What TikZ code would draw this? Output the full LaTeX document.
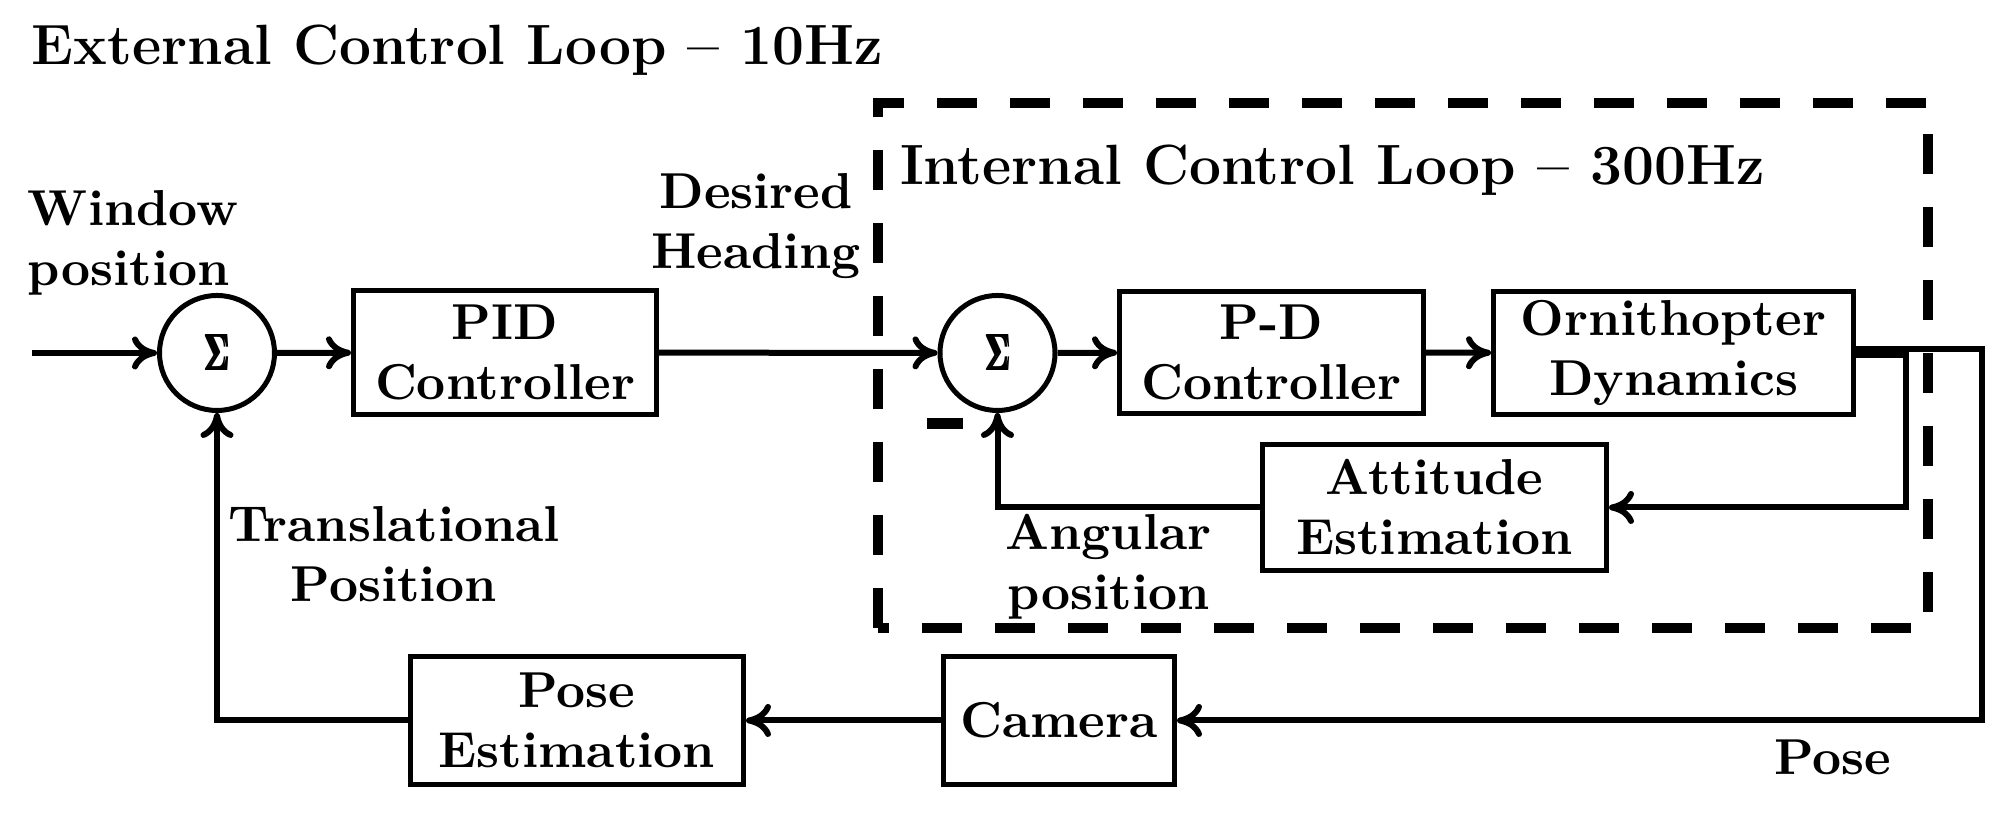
\documentclass[tikz,border=0pt]{standalone}
\usepackage{graphicx}
\usetikzlibrary{arrows.meta}
\newcommand\lblfont{\fontsize{10.1pt}{12pt}\selectfont\bfseries}
\newcommand\ttlfont{\fontsize{11.35pt}{13.5pt}\selectfont\bfseries}
\newcommand\sigbase{\resizebox{4.8pt}{7.2pt}{$\mathbf{\Sigma}$}}
\newcommand\sigsym{\rlap{\sigbase}\hspace{0.3pt}\rlap{\sigbase}\hspace{0.3pt}\sigbase}
\tikzset{
  blk/.style={draw, line width=1pt, inner sep=0pt, align=center, font=\lblfont},
  sumnode/.style={draw, circle, line width=1pt, minimum size=23pt, inner sep=0pt},
  conn/.style={line width=1.2pt, -{Computer Modern Rightarrow[length=5pt,width=6.6pt]}},
  lbl/.style={inner sep=0pt, align=center, font=\lblfont},
  ttl/.style={inner sep=0pt, font=\ttlfont, anchor=base west},
  loopbox/.style={line width=2pt, dash pattern=on 8pt off 6.6pt},
}
\begin{document}
\begin{tikzpicture}[x=0.2pt,y=-0.2pt]
\useasboundingbox (0,0) rectangle (2002,821);
% dashed internal loop box
\draw[loopbox] (878,628) -- (878,103) -- (1928,103) -- (1928,628) -- cycle;
% titles
\node[ttl] (ext) at (31,65) {External Control Loop -- 10Hz};
\node[ttl] (int) at (899,185) {Internal Control Loop -- 300Hz};
% summing junctions
\node[sumnode] (s1) at (217,353) {\sigsym};
\node[sumnode] (s2) at (997.5,353) {\sigsym};
% blocks
\node[blk, minimum width=60.6pt, minimum height=24.8pt] (pid) at (505,352.5) {PID\\Controller};
\node[blk, minimum width=60.8pt, minimum height=24.4pt] (pd) at (1271.5,352.5) {P-D\\Controller};
\node[blk, minimum width=72pt, minimum height=24.6pt] (orn) at (1673.5,353) {Ornithopter\\Dynamics};
\node[blk, minimum width=68.8pt, minimum height=25.2pt] (att) at (1434.5,507.5) {Attitude\\Estimation};
\node[blk, minimum width=66.6pt, minimum height=25.6pt] (pose) at (577,720.5) {Pose\\Estimation};
\node[blk, minimum width=46.2pt, minimum height=25.6pt] (cam) at (1059,720.5) {Camera};
% labels
\node[lbl, align=left, anchor=west] (win) at (27,242.75) {Window\\position};
\node[lbl] (des) at (756,226) {Desired\\Heading};
\node[lbl] (tra) at (394,554) {Translational\\Position};
\node[lbl] (ang) at (1108.5,567) {Angular\\position};
\node[lbl, anchor=base] (posel) at (1832.5,775) {Pose};
\node[fill=black, minimum width=7.2pt, minimum height=2.2pt, inner sep=0pt] (minus) at (945,423.5) {};
% connectors
\coordinate (in) at (32,353);
\coordinate (ra) at (1981.5,349.5);
\coordinate (rb) at (1905.5,355);
\draw[conn] (in) -- (s1);
\draw[conn] (s1) -- (pid);
\draw[conn] (pid) -- (s2);
\draw[conn] (s2) -- (pd);
\draw[conn] (pd) -- (orn);
\draw[conn] (orn.east |- ra) -- (ra) |- (cam);
\draw[conn] (orn.east |- rb) -- (rb) |- (att);
\draw[conn] (att) -| (s2);
\draw[conn] (cam) -- (pose);
\draw[conn] (pose) -| (s1);
\end{tikzpicture}
\end{document}
